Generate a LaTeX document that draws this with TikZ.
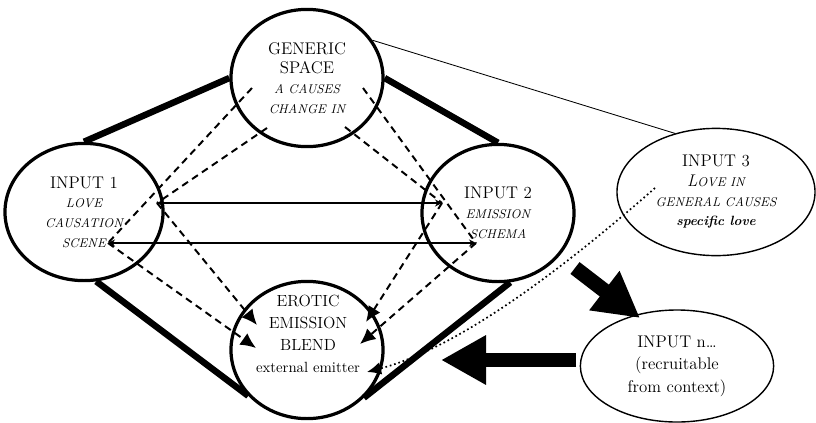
\documentclass[tikz,border=0pt]{standalone}
\usetikzlibrary{shapes.geometric,arrows.meta}

\newcommand{\kl}[1]{{\fontsize{9}{14}\selectfont\itshape #1}}

\tikzset{
  raum/.style={draw, ellipse, line width=2.3pt, minimum width=3.8cm,
    minimum height=3.43cm, inner sep=0pt, align=center,
    font=\fontsize{12}{14}\selectfont},
  extra/.style={draw, ellipse, line width=1pt, inner sep=0pt, align=center,
    font=\fontsize{12}{14}\selectfont},
  rahmen/.style={line width=4.6pt},
  proj/.style={dash pattern=on 5pt off 3.5pt, line width=1.4pt},
  blendpfeil/.style={proj, -{Latex[length=11pt,width=10pt]}},
  zuordnung/.style={line width=1.4pt,
    {Stealth[length=5pt,width=5pt]}-{Stealth[length=5pt,width=5pt]}},
  block/.style={line width=10.6pt, -{Triangle[length=32pt,width=33pt]}},
}

\begin{document}
\begin{tikzpicture}[x=0.025cm, y=-0.025cm]
    \useasboundingbox (0,0) rectangle (816,422);
    % Raeume
    \node[raum] (generic) at (307,78)
        {GENERIC\\SPACE\\\kl{A CAUSES}\\\kl{CHANGE IN}};
    \node[raum, minimum width=3.95cm] (input1) at (84,212)
        {INPUT 1\\\kl{LOVE}\\\kl{CAUSATION}\\\kl{SCENE}};
    \node[raum] (input2) at (498,213)
        {INPUT 2\\\kl{EMISSION}\\\kl{SCHEMA}};
    \node[raum] (blend) at (307,350) {};
    \node[align=center, font=\fontsize{11.5}{15.5}\selectfont] (blendtext) at (308,334)
        {EROTIC\\EMISSION\\BLEND\\{\fontsize{10.5}{15.5}\selectfont external emitter}};
    \node[extra, minimum width=4.95cm, minimum height=3.18cm] (input3) at (716,192)
        {INPUT 3\\{\itshape L\kl{OVE IN}}\\\kl{GENERAL CAUSES}\\
         {\fontsize{9.5}{14}\selectfont\bfseries\itshape specific love}};
    \node[extra, minimum width=4.83cm, minimum height=2.8cm,
        font=\fontsize{12}{16}\selectfont] (inputn) at (677,366)
        {INPUT n\dots\\(recruitable\\from context)};
    % Rahmen
    \draw[rahmen] (input1.north) -- (generic.west);
    \draw[rahmen] (generic.east) -- (input2.north);
    \draw[rahmen] (input1.-80) -- (blend.218);
    \draw[rahmen] (input2.-80) -- (blend.320);
    % Punkte
    \coordinate (g1) at (252,88);
    \coordinate (g2) at (363,88);
    \coordinate (g3) at (267,128);
    \coordinate (g4) at (345,127);
    \coordinate (love) at (157,203);
    \coordinate (scene) at (108,243);
    \coordinate (emis) at (442,203);
    \coordinate (schema) at (476,243);
    \coordinate (b1) at (257,325);
    \coordinate (b2) at (256,348);
    \coordinate (b3) at (366,322);
    \coordinate (b4) at (360,344);
    \coordinate (spec) at (655,188);
    \coordinate (emit) at (367,372);
    % Projektionen
    \draw[proj] (g1) -- (scene);
    \draw[proj] (g3) -- (love);
    \draw[proj] (g2) -- (schema);
    \draw[proj] (g4) -- (emis);
    \draw[zuordnung] (love) -- (emis);
    \draw[zuordnung] (scene) -- (schema);
    \foreach \a/\b in {love/b1, scene/b2, emis/b3, schema/b4}
        \draw[blendpfeil] (\a) -- (\b);
    % Input 3 und n
    \draw[dotted, line width=1.2pt, -{Latex[length=10pt,width=9pt]}]
        (spec) .. controls (590,245) and (470,345) .. (emit);
    \draw[line width=0.6pt] (generic.30) -- (input3.125);
    \coordinate (k1) at (575,268);
    \coordinate (k2) at (640,318);
    \coordinate (k3) at (576,360);
    \coordinate (k4) at (441,360);
    \draw[block] (k1) -- (k2);
    \draw[block] (k3) -- (k4);
\end{tikzpicture}
\end{document}
